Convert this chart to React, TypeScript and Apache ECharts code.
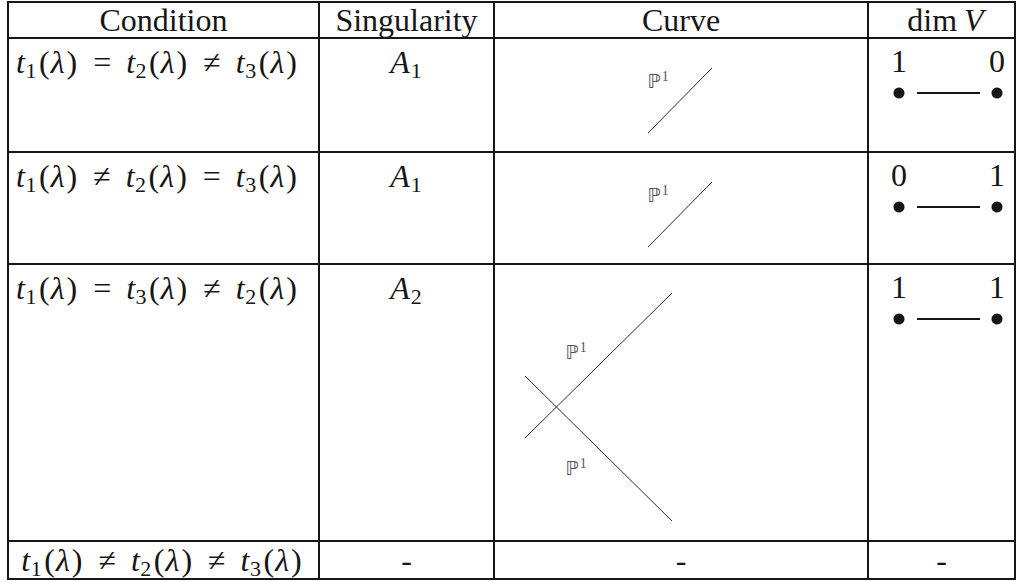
import React, { useEffect, useRef } from 'react';
import * as echarts from 'echarts';

// ---- table content ----
const headers = ['Condition', 'Singularity', 'Curve', 'dim V'];
const conditionIndices = [[1, 2, 3], [1, 2, 3], [1, 3, 2], [1, 2, 3]];
const conditionRelations = [['=', '≠'], ['≠', '='], ['=', '≠'], ['≠', '≠']];
const singularityIndex: (number | null)[] = [1, 1, 2, null];
const curveComponents = [1, 1, 2, 0];
const dimLeft: (number | null)[] = [1, 0, 1, null];
const dimRight: (number | null)[] = [0, 1, 1, null];
const curveLabel = ['ℙ', '1'];

// ---- layout ----
const colX = [8, 319, 494, 868, 1015];
const rowY = [2, 38, 152, 264, 541, 579];
const INK = '#161616';
const GREY = '#555555';
const SERIF = 'Liberation Serif';
const FS = 32;

type Tok = { t: string; size?: number; it?: boolean; fam?: string; dy?: number; pl?: number; pr?: number; fill?: string };

let ctx: CanvasRenderingContext2D | null = null;
function measure(tok: Tok) {
  if (!ctx) ctx = document.createElement('canvas').getContext('2d');
  const size = tok.size ?? FS;
  const fam = tok.fam ?? SERIF;
  ctx!.font = `${tok.it ? 'italic ' : ''}${size}px '${fam}'`;
  return ctx!.measureText(tok.t).width;
}

function run(els: any[], toks: Tok[], cx: number, cy: number) {
  const widths = toks.map((k) => (k.pl ?? 0) + measure(k) + (k.pr ?? 0));
  const total = widths.reduce((a, b) => a + b, 0);
  let x = cx - total / 2;
  toks.forEach((k, idx) => {
    els.push({
      type: 'text',
      x: x + (k.pl ?? 0),
      y: cy + (k.dy ?? 0),
      silent: true,
      style: {
        text: k.t,
        fontFamily: k.fam ?? SERIF,
        fontSize: k.size ?? FS,
        fontStyle: k.it ? 'italic' : 'normal',
        fill: k.fill ?? INK,
        align: 'left',
        verticalAlign: 'middle',
      },
    });
    x += widths[idx];
  });
}

const sub = (n: number | string): Tok => ({ t: String(n), size: 22, dy: 8, pr: 1 });
const term = (n: number): Tok[] => [
  { t: 't', it: true, pr: 0.5 },
  sub(n),
  { t: '(', pl: 1.5, pr: 1 },
  { t: 'λ', it: true, pr: 1.5 },
  { t: ')', pl: 0.5, pr: 1 },
];
const rel = (r: string): Tok => ({ t: r, pl: 15, pr: 15 });

function buildGraphics() {
  const els: any[] = [];
  rowY.forEach((y) => {
    els.push({ type: 'line', silent: true, shape: { x1: colX[0] - 1, y1: y, x2: colX[4] + 1, y2: y }, style: { stroke: INK, lineWidth: 2 } });
  });
  colX.forEach((x) => {
    els.push({ type: 'line', silent: true, shape: { x1: x, y1: rowY[0], x2: x, y2: rowY[5] }, style: { stroke: INK, lineWidth: 2 } });
  });
  const cx = (c: number) => (colX[c] + colX[c + 1]) / 2;
  // headers
  headers.forEach((h, c) => {
    if (h === 'dim V') run(els, [{ t: 'dim', pr: 7 }, { t: 'V', it: true }], cx(c) + 4, rowY[0] + 18);
    else run(els, [{ t: h }], cx(c), rowY[0] + 18);
  });
  // rows
  for (let k = 0; k < conditionIndices.length; k++) {
    const top = rowY[k + 1];
    const bottom = rowY[k + 2];
    const short = bottom - top < 50;
    const ty = short ? (top + bottom) / 2 : top + 24;
    const idx = conditionIndices[k];
    const rl = conditionRelations[k];
    run(els, [...term(idx[0]), rel(rl[0]), ...term(idx[1]), rel(rl[1]), ...term(idx[2])], short ? 162 : 157, ty);
    const si = singularityIndex[k];
    if (si == null) run(els, [{ t: '-' }], cx(1), ty);
    else run(els, [{ t: 'A', it: true, pr: 1 }, sub(si)], cx(1), ty);
    // curve
    const left = colX[2];
    const n = curveComponents[k];
    const thin = { stroke: '#2a2a2a', lineWidth: 1 };
    const lbl = (x: number, y: number) =>
      run(els, [{ t: curveLabel[0], fam: 'DejaVu Sans', size: 19, fill: GREY, pr: 1 }, { t: curveLabel[1], size: 14, dy: -5, fill: GREY }], x, y);
    if (n === 1) {
      els.push({ type: 'line', silent: true, shape: { x1: left + 154, y1: top + 95, x2: left + 218, y2: top + 30 }, style: thin });
      lbl(left + 164, top + 43);
    } else if (n === 2) {
      els.push({ type: 'line', silent: true, shape: { x1: left + 31, y1: top + 174, x2: left + 178, y2: top + 29 }, style: thin });
      els.push({ type: 'line', silent: true, shape: { x1: left + 31, y1: top + 112, x2: left + 178, y2: top + 257 }, style: thin });
      lbl(left + 82, top + 88);
      lbl(left + 82, top + 204);
    } else {
      run(els, [{ t: '-' }], cx(2), ty);
    }
    // dim V
    const dl = dimLeft[k];
    const dr = dimRight[k];
    if (dl == null || dr == null) {
      run(els, [{ t: '-' }], cx(3), ty);
    } else {
      const xl = colX[3] + 31;
      const xr = colX[3] + 129;
      run(els, [{ t: String(dl) }], xl, top + 23);
      run(els, [{ t: String(dr) }], xr, top + 23);
      els.push({ type: 'circle', silent: true, shape: { cx: xl, cy: top + 55, r: 5.5 }, style: { fill: INK } });
      els.push({ type: 'circle', silent: true, shape: { cx: xr, cy: top + 55, r: 5.5 }, style: { fill: INK } });
      els.push({ type: 'line', silent: true, shape: { x1: xl + 18, y1: top + 55, x2: xr - 17, y2: top + 55 }, style: { stroke: INK, lineWidth: 2 } });
    }
  }
  return els;
}

export default function App() {
  const ref = useRef<HTMLDivElement>(null);
  useEffect(() => {
    if (!ref.current) return;
    const chart = echarts.init(ref.current, undefined, { renderer: 'svg' });
    chart.setOption({
      animation: false,
      backgroundColor: '#ffffff',
      graphic: { elements: buildGraphics() },
    });
    return () => chart.dispose();
  }, []);
  return (
    <div
      ref={ref}
      style={{ position: 'fixed', left: 0, top: 0, width: 1024, height: 582, background: '#fff' }}
    />
  );
}
